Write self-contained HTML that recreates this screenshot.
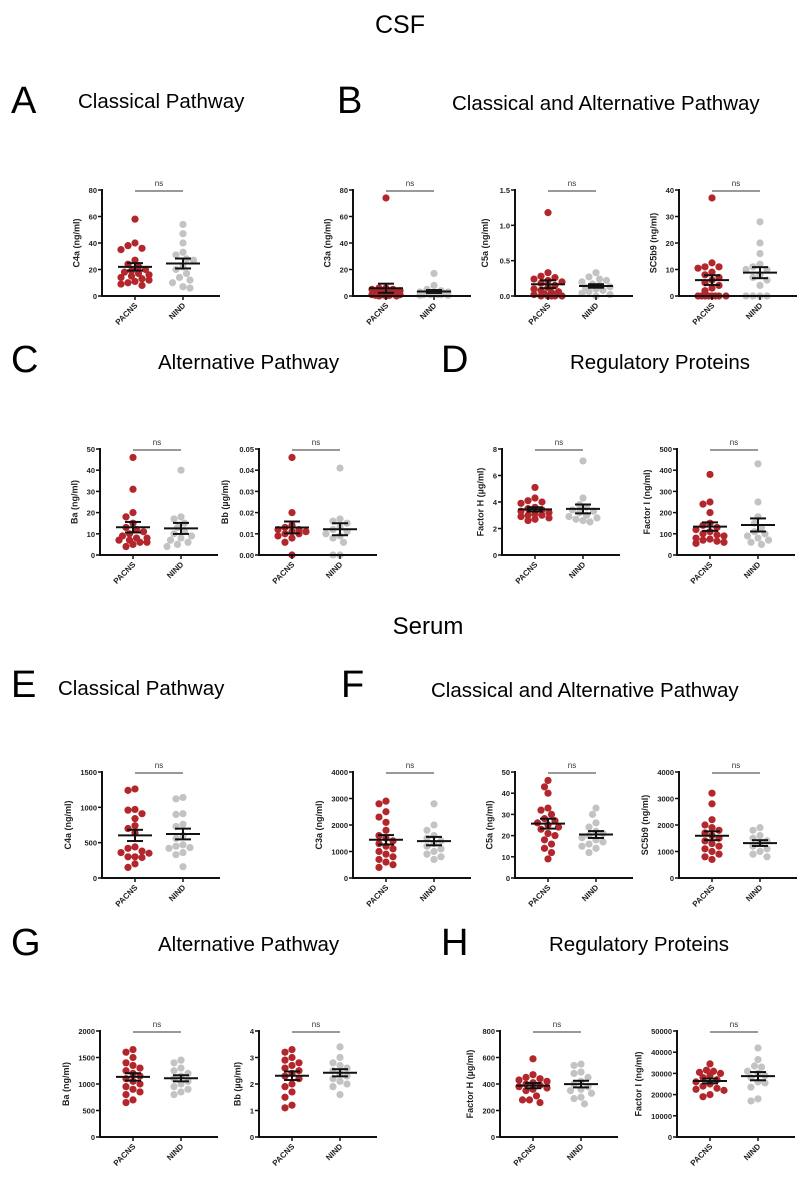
<!DOCTYPE html>
<html><head><meta charset="utf-8">
<style>
html,body{margin:0;padding:0;background:#fff;}
svg{display:block;font-family:"Liberation Sans",Arial,sans-serif;}
</style></head>
<body>
<svg id="fig" width="799" height="1182" viewBox="0 0 799 1182" xmlns="http://www.w3.org/2000/svg">
<rect width="799" height="1182" fill="#fff"/>
<text x="400" y="33" font-size="25" text-anchor="middle">CSF</text>
<text x="428" y="634" font-size="24" text-anchor="middle">Serum</text>
<g font-size="38">
<text x="11" y="113">A</text>
<text x="337" y="113">B</text>
<text x="11" y="372">C</text>
<text x="441" y="372">D</text>
<text x="11" y="697">E</text>
<text x="341" y="697">F</text>
<text x="11" y="955">G</text>
<text x="441" y="955">H</text>
</g>
<g font-size="20.5">
<text x="78" y="108">Classical Pathway</text>
<text x="452" y="110">Classical and Alternative Pathway</text>
<text x="158" y="369">Alternative Pathway</text>
<text x="570" y="369">Regulatory Proteins</text>
<text x="58" y="695">Classical Pathway</text>
<text x="431" y="697">Classical and Alternative Pathway</text>
<text x="158" y="951">Alternative Pathway</text>
<text x="549" y="951">Regulatory Proteins</text>
</g>
</svg>
<script>
// ---- data ----
const groups = ["PACNS", "NIND"];
const c4aCsfP = [58,40,36,35,38,27,24,22,20,19,18,17,16,15,14,13,12,11,10,9,8];
const c4aCsfN = [54,47,40,33,31,28,27,22,20,17,14,12,10,7,6];
const c3aCsfP = [74,6,6,5,5,4,4,3,3,3,2,2,2,1,1,1,0.5,0.5,0,0,0];
const c3aCsfN = [17,8,5,4,3,3,2,2,2,1,1,1,1,0.5,0.5];
const c5aCsfP = [1.18,0.33,0.28,0.26,0.24,0.22,0.2,0.18,0.15,0.12,0.1,0.08,0.06,0.05,0.03,0.02,0,0,0,0,0];
const c5aCsfN = [0.33,0.27,0.24,0.22,0.2,0.17,0.15,0.13,0.12,0.1,0.08,0.06,0.04,0.02,0];
const sc5b9CsfP = [37,12.5,11,11,10.5,9,8,7,6,5,4,3,2,0,0,0,0,0,0,0,0];
const sc5b9CsfN = [28,20,16,12,11,10,10,8,7,6,4,0,0,0,0];
const baCsfP = [46,31,20,18,15,13,12,11,10,9,8,8,7,7,6,6,5,4];
const baCsfN = [40,18,17,15,13,11,10,9,8,7,6,5,4];
const bbCsfP = [0.046,0.02,0.014,0.013,0.012,0.012,0.011,0.011,0.01,0.01,0.009,0.008,0.006,0];
const bbCsfN = [0.041,0.017,0.016,0.015,0.013,0.012,0.011,0.01,0.009,0.008,0.006,0,0];
const fhCsfP = [5.1,4.3,4.1,4.0,3.9,3.6,3.4,3.3,3.2,3.1,3.0,2.9,2.8,2.7,2.6,3.0,3.5];
const fhCsfN = [7.1,4.3,3.8,3.6,3.4,3.3,3.2,3.0,2.9,2.8,2.7,2.6,2.5];
const fiCsfP = [380,250,240,200,150,140,130,120,110,100,95,90,80,75,70,65,60,55];
const fiCsfN = [430,250,180,150,130,110,100,90,80,70,60,50];
const c4aSerP = [1260,1240,960,970,910,840,740,700,640,440,420,380,360,350,300,300,290,200,150];
const c4aSerN = [1140,1120,910,900,760,730,600,560,470,450,430,420,360,330,160];
const c3aSerP = [2900,2800,2500,2300,2100,1800,1600,1500,1400,1300,1200,1100,1000,900,800,700,600,500,400];
const c3aSerN = [2800,2000,1800,1600,1500,1400,1300,1200,1100,1000,900,800,700];
const c5aSerP = [46,43,40,33,32,30,28,27,26,25,24,23,21,20,18,16,14,12,9];
const c5aSerN = [33,30,26,24,22,21,20,19,18,17,16,15,14,12];
const sc5b9SerP = [3200,2800,2200,2000,1900,1800,1700,1600,1500,1400,1300,1200,1100,1000,900,800,700];
const sc5b9SerN = [1900,1800,1600,1500,1400,1300,1200,1100,1000,900,800];
const baSerP = [1650,1600,1500,1400,1350,1300,1250,1200,1150,1100,1050,1000,950,900,850,800,700,650];
const baSerN = [1450,1400,1300,1250,1200,1150,1100,1050,1000,950,900,850,800];
const bbSerP = [3.3,3.2,3.0,2.9,2.8,2.7,2.6,2.5,2.4,2.3,2.2,2.0,1.9,1.7,1.5,1.2,1.1];
const bbSerN = [3.4,3.0,2.8,2.7,2.6,2.5,2.4,2.3,2.2,2.1,2.0,1.9,1.6];
const fhSerP = [590,470,450,440,430,420,410,400,390,380,370,360,350,310,280,280,260];
const fhSerN = [550,540,490,480,450,420,400,380,360,350,330,300,290,250];
const fiSerP = [34500,31500,31000,30500,30000,29000,28000,27000,26000,25000,24000,23000,22500,22000,20000,19000];
const fiSerN = [42000,36500,33500,33000,31000,30000,29000,28000,26000,25500,23500,18000,17000];
// tick labels
const ticks80 = ["0","20","40","60","80"];
const ticks15 = ["0.0","0.5","1.0","1.5"];
const ticks40 = ["0","10","20","30","40"];
const ticks50 = ["0","10","20","30","40","50"];
const ticks005 = ["0.00","0.01","0.02","0.03","0.04","0.05"];
const ticks8 = ["0","2","4","6","8"];
const ticks500 = ["0","100","200","300","400","500"];
const ticks1500 = ["0","500","1000","1500"];
const ticks4000 = ["0","1000","2000","3000","4000"];
const ticks2000 = ["0","500","1000","1500","2000"];
const ticks4 = ["0","1","2","3","4"];
const ticks800 = ["0","200","400","600","800"];
const ticks50000 = ["0","10000","20000","30000","40000","50000"];

const NS = "http://www.w3.org/2000/svg";
const svg = document.getElementById("fig");
function mk(tag, attrs, parent){
  const e = document.createElementNS(NS, tag);
  for (const k in attrs) e.setAttribute(k, attrs[k]);
  parent.appendChild(e);
  return e;
}
function stats(a){
  const m = a.reduce((s,v)=>s+v,0)/a.length;
  const sd = Math.sqrt(a.reduce((s,v)=>s+(v-m)*(v-m),0)/(a.length-1));
  return [m, sd/Math.sqrt(a.length)];
}
function panel(name, ax, top, bottom, ticks, title, pVals, nVals){
  const g = mk("g", {}, svg);
  
  
  const ymax = parseFloat(ticks[ticks.length-1]);
  const y = v => bottom - (v / ymax) * (bottom - top);
  const xs = [ax + 33, ax + 81];
  const xEnd = ax + 118;
  const cols = ["#b3262b", "#c3c3c3"];
  [pVals, nVals].forEach((vals, gi) => {
    const placed = [];
    const sorted = vals.slice().sort((a,b)=>b-a);
    const r = 3.6, d = 7.0, maxOff = 17;
    sorted.forEach(v => {
      const cy = y(v);
      let best = 0, bestScore = Infinity;
      for (let k = 0; k < 20; k++) {
        const off = (k === 0) ? 0 : Math.ceil(k/2) * 3.5 * (k % 2 ? -1 : 1);
        if (Math.abs(off) > maxOff) continue;
        const cx = xs[gi] + off;
        let minD = Infinity;
        placed.forEach(p => { const dd = Math.hypot(p[0]-cx, p[1]-cy); if (dd < minD) minD = dd; });
        if (minD >= d) { best = off; bestScore = -1; break; }
        const score = -minD;
        if (score < bestScore) { bestScore = score; best = off; }
      }
      const cx = xs[gi] + best;
      placed.push([cx, cy]);
      const c = mk("circle", {cx: cx, cy: cy, r: r, fill: cols[gi]}, g);
      
      
    });
    const [m, se] = stats(vals);
    const eb = mk("g", {stroke: "#111", "stroke-width": 2, fill: "none"}, g);
    
    
    mk("line", {x1: xs[gi]-17, x2: xs[gi]+17, y1: y(m), y2: y(m)}, eb);
    mk("line", {x1: xs[gi], x2: xs[gi], y1: y(m-se), y2: y(m+se)}, eb);
    mk("line", {x1: xs[gi]-8, x2: xs[gi]+8, y1: y(m+se), y2: y(m+se)}, eb);
    mk("line", {x1: xs[gi]-8, x2: xs[gi]+8, y1: y(m-se), y2: y(m-se)}, eb);
  });
  const axes = mk("g", {stroke: "#111", "stroke-width": 2}, g);
  
  
  mk("line", {x1: ax, x2: ax, y1: top-1, y2: bottom+1}, axes);
  mk("line", {x1: ax-1, x2: xEnd, y1: bottom, y2: bottom}, axes);
  let maxLen = 1;
  ticks.forEach(t => {
    const ty = y(parseFloat(t));
    maxLen = Math.max(maxLen, t.length);
    mk("line", {x1: ax-4, x2: ax, y1: ty, y2: ty, "stroke-width": 1.5}, axes);
    const tl = mk("text", {x: ax-5, y: ty+3, "font-size": 7.5, "font-weight": "bold", "text-anchor": "end", fill: "#222"}, g);
    
    
    tl.textContent = t;
  });
  xs.forEach((x, i) => {
    mk("line", {x1: x, x2: x, y1: bottom, y2: bottom+4, stroke: "#111", "stroke-width": 1.5}, g);
    const xl = mk("text", {x: x+3, y: bottom+10, "font-size": 8, "font-weight": "bold", "text-anchor": "end", fill: "#222", transform: "rotate(-45 " + (x+3) + " " + (bottom+10) + ")"}, g);
    
    
    xl.textContent = groups[i];
  });
  const tx = ax - 14 - maxLen * 4.3;
  const yt = mk("text", {x: 0, y: 0, "font-size": 9, "font-weight": "bold", "text-anchor": "middle", fill: "#222",
    transform: "translate(" + tx + "," + ((top+bottom)/2) + ") rotate(-90)"}, g);
  
  
  yt.textContent = title;
  const nl = mk("line", {x1: xs[0], x2: xs[1], y1: top+1, y2: top+1, stroke: "#333", "stroke-width": 1}, g);
  
  
  const ns = mk("text", {x: (xs[0]+xs[1])/2, y: top-4, "font-size": 8, "text-anchor": "middle", fill: "#333"}, g);
  
  
  ns.textContent = "ns";
}
panel("panel-a-c4a-csf", 102, 190, 296, ticks80, "C4a (ng/ml)", c4aCsfP, c4aCsfN);
panel("panel-b-c3a-csf", 353, 190, 296, ticks80, "C3a (ng/ml)", c3aCsfP, c3aCsfN);
panel("panel-b-c5a-csf", 515, 190, 296, ticks15, "C5a (ng/ml)", c5aCsfP, c5aCsfN);
panel("panel-b-sc5b9-csf", 679, 190, 296, ticks40, "SC5b9 (ng/ml)", sc5b9CsfP, sc5b9CsfN);
panel("panel-c-ba-csf", 100, 449, 555, ticks50, "Ba (ng/ml)", baCsfP, baCsfN);
panel("panel-c-bb-csf", 259, 449, 555, ticks005, "Bb (\u00b5g/ml)", bbCsfP, bbCsfN);
panel("panel-d-fh-csf", 502, 449, 555, ticks8, "Factor H (\u00b5g/ml)", fhCsfP, fhCsfN);
panel("panel-d-fi-csf", 677, 449, 555, ticks500, "Factor I (ng/ml)", fiCsfP, fiCsfN);
panel("panel-e-c4a-serum", 102, 772, 878, ticks1500, "C4a (ng/ml)", c4aSerP, c4aSerN);
panel("panel-f-c3a-serum", 353, 772, 878, ticks4000, "C3a (ng/ml)", c3aSerP, c3aSerN);
panel("panel-f-c5a-serum", 515, 772, 878, ticks50, "C5a (ng/ml)", c5aSerP, c5aSerN);
panel("panel-f-sc5b9-serum", 679, 772, 878, ticks4000, "SC5b9 (ng/ml)", sc5b9SerP, sc5b9SerN);
panel("panel-g-ba-serum", 100, 1031, 1137, ticks2000, "Ba (ng/ml)", baSerP, baSerN);
panel("panel-g-bb-serum", 259, 1031, 1137, ticks4, "Bb (\u00b5g/ml)", bbSerP, bbSerN);
panel("panel-h-fh-serum", 500, 1031, 1137, ticks800, "Factor H (\u00b5g/ml)", fhSerP, fhSerN);
panel("panel-h-fi-serum", 677, 1031, 1137, ticks50000, "Factor I (ng/ml)", fiSerP, fiSerN);
</script>
</body></html>
